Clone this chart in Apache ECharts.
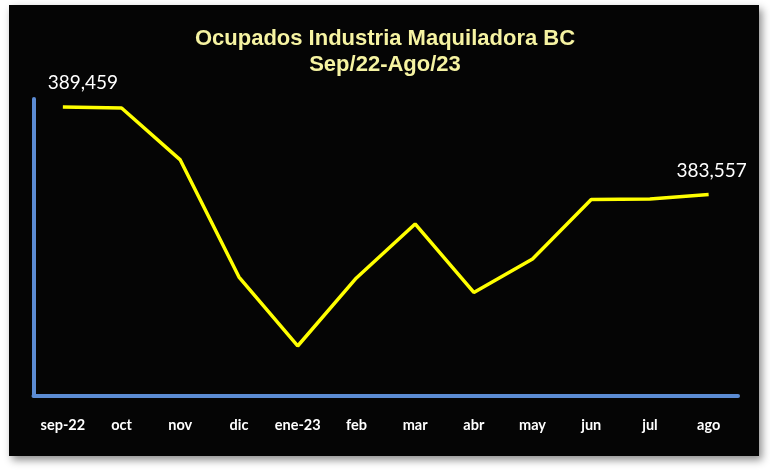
<!DOCTYPE html>
<html><head><meta charset="utf-8">
<script src="https://cdn.jsdelivr.net/npm/echarts@6/dist/echarts.min.js"></script>
<style>html,body{margin:0;padding:0;background:#fff;}#c{width:770px;height:470px;}</style>
</head><body><div id="c"></div>
<script>
const titleLines = ['Ocupados Industria Maquiladora BC', 'Sep/22-Ago/23'];
const categories = ['sep-22','oct','nov','dic','ene-23','feb','mar','abr','may','jun','jul','ago'];
const values = [389459, 389390, 385890, 377990, 373340, 377930, 381570, 376950, 379210, 383220, 383250, 383557];
const labeledIdx = [0, 11];

const chart = echarts.init(document.getElementById('c'), null, {renderer:'canvas'});
const fmt = v => v.toLocaleString('en-US');
chart.setOption({
  animation: false,
  backgroundColor: '#ffffff',
  graphic: [{
    type: 'rect', left: 9, top: 5, z: -10,
    shape: {width: 750, height: 451},
    style: {fill: '#050505', shadowBlur: 8, shadowColor: 'rgba(0,0,0,0.45)', shadowOffsetX: 3, shadowOffsetY: 4}
  }],
  title: {
    text: titleLines.join('\n'), left: 'center', top: 21,
    textStyle: {color: '#F6F3A2', fontFamily: 'Liberation Sans', fontWeight: 'bold', fontSize: 22, lineHeight: 26}
  },
  grid: {left: 33.5, right: 32, top: 99, bottom: 74.5},
  xAxis: {
    type: 'category', data: categories, boundaryGap: true,
    axisLine: {lineStyle: {color: '#5B8BD3', width: 4}},
    axisTick: {show: false},
    axisLabel: {interval: 0, color: '#ffffff', fontFamily: 'Lato', fontWeight: 'bold', fontSize: 14.5, margin: 22}
  },
  yAxis: {
    type: 'value', min: 370000, max: 390000,
    axisLine: {show: true, lineStyle: {color: '#5B8BD3', width: 4}},
    axisTick: {show: false}, axisLabel: {show: false}, splitLine: {show: false}
  },
  series: [{
    type: 'line', symbol: 'circle', symbolSize: 1, showSymbol: true,
    itemStyle: {color: 'rgba(0,0,0,0)'},
    lineStyle: {color: '#FFFF00', width: 3.5},
    data: values.map((v, i) => labeledIdx.includes(i) ? {
      value: v,
      label: {show: true, position: 'top', distance: 14, offset: i === 0 ? [20, 0] : [3, 0],
        color: '#ffffff', fontFamily: 'Lato', fontSize: 19, formatter: p => fmt(p.value)}
    } : v)
  }]
});
</script></body></html>
